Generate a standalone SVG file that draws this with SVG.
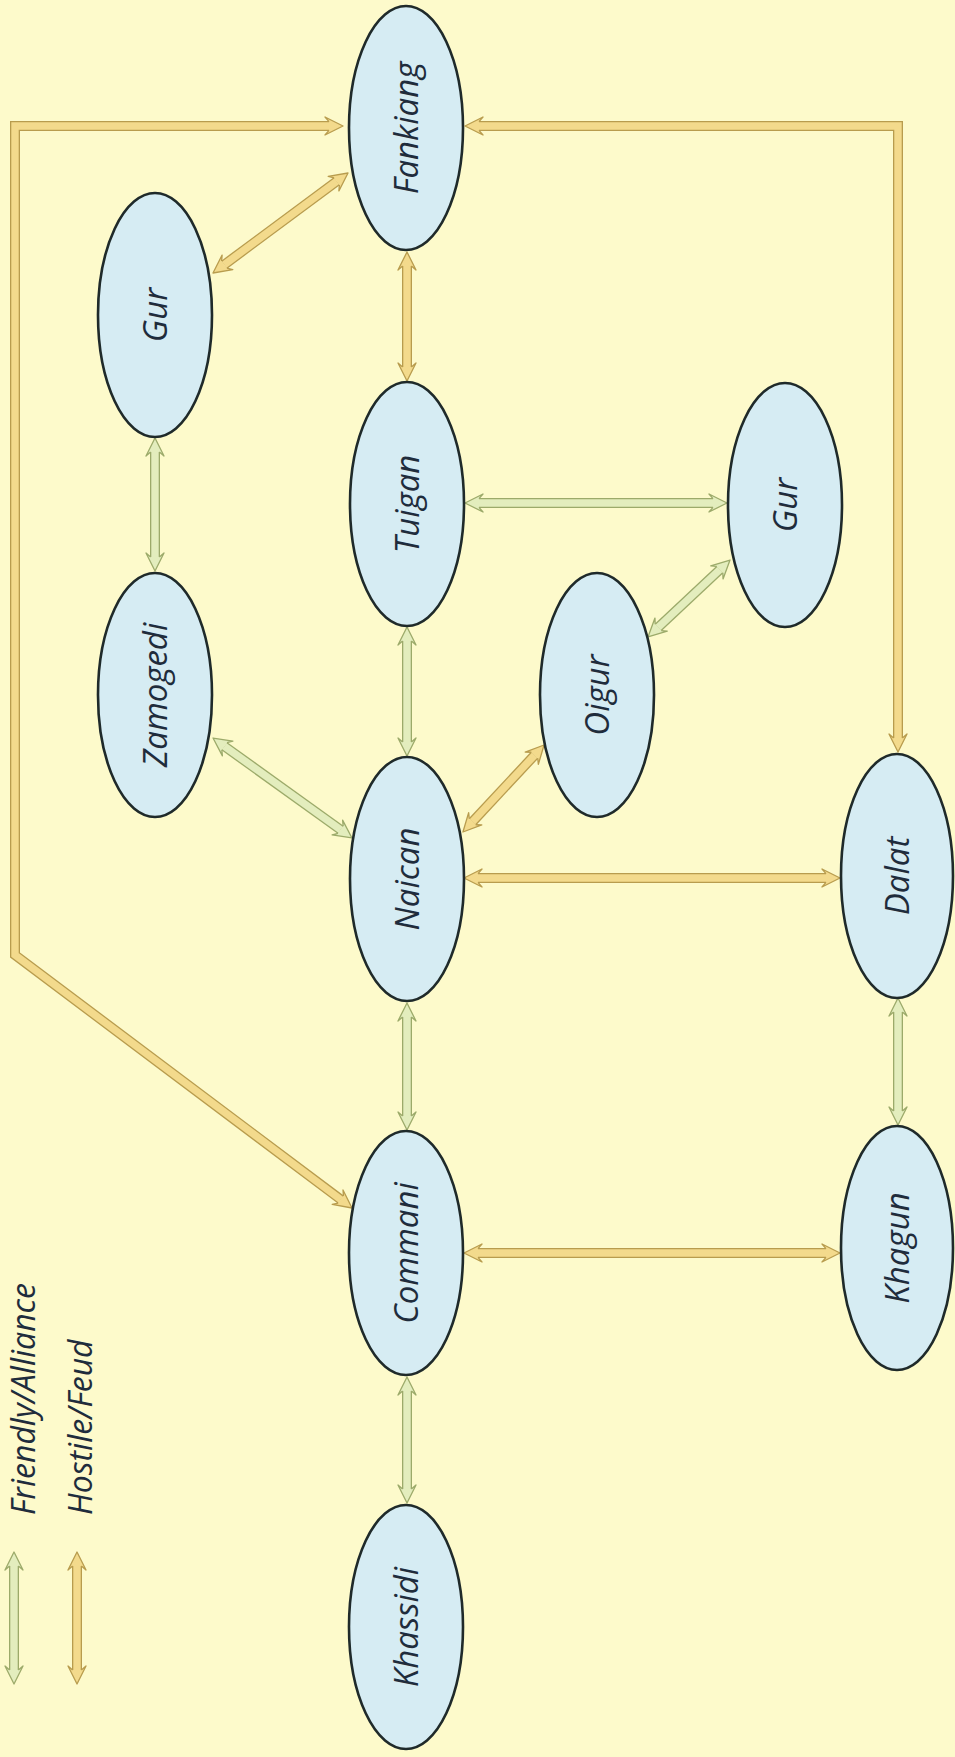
<svg xmlns="http://www.w3.org/2000/svg" width="955" height="1757" viewBox="0 0 955 1757">
<defs>
<style>
.node ellipse{fill:#d6ecf3;stroke:#1f2a2a;stroke-width:2.6}
.node text,.legend text{font-family:"Open Sans","DejaVu Sans",sans-serif;font-style:italic;font-weight:500;font-size:33px;fill:#1f2c3c}
.legend text{font-size:32px;font-weight:400}
.node text{text-anchor:middle}
.ho{fill:none;stroke:#b89c4e;stroke-width:10}
.hi{fill:none;stroke:#f3da8c;stroke-width:7.4;marker-start:url(#mh);marker-end:url(#mh)}
.fo{fill:none;stroke:#9caa6a;stroke-width:10}
.fi{fill:none;stroke:#e3edbd;stroke-width:7.4;marker-start:url(#mf);marker-end:url(#mf)}
</style>
<marker id="mh" viewBox="-6 -11 22 22" refX="0" refY="0" markerWidth="22" markerHeight="22" markerUnits="userSpaceOnUse" orient="auto-start-reverse" overflow="visible">
<path d="M0,-4.4 L-4,-9 L14,0 L-4,9 L0,4.4" fill="#f3da8c" stroke="#b89c4e" stroke-width="1.3" stroke-linejoin="round"/>
</marker>
<marker id="mf" viewBox="-6 -11 22 22" refX="0" refY="0" markerWidth="22" markerHeight="22" markerUnits="userSpaceOnUse" orient="auto-start-reverse" overflow="visible">
<path d="M0,-4.4 L-4,-9 L14,0 L-4,9 L0,4.4" fill="#e3edbd" stroke="#9caa6a" stroke-width="1.3" stroke-linejoin="round"/>
</marker>
</defs>
<rect width="955" height="1757" fill="#fdfacb"/>
<g id="connectors">
<g id="h-fankiang-gur"><path class="ho" d="M224.25,264.67 L336.75,181.33"/><path class="hi" d="M224.25,264.67 L336.75,181.33"/></g>
<g id="h-fankiang-tuigan"><path class="ho" d="M407,266 L407,367"/><path class="hi" d="M407,266 L407,367"/></g>
<g id="h-fankiang-commani"><path class="ho" d="M329,126 L15,126 L15,955 L340.8,1199.6"/><path class="hi" d="M329,126 L15,126 L15,955 L340.8,1199.6"/></g>
<g id="h-fankiang-dalat"><path class="ho" d="M479,126 L898,126 L898,738"/><path class="hi" d="M479,126 L898,126 L898,738"/></g>
<g id="h-naican-oigur"><path class="ho" d="M472.5,821.75 L534.5,755.25"/><path class="hi" d="M472.5,821.75 L534.5,755.25"/></g>
<g id="h-naican-dalat"><path class="ho" d="M478,878 L826,878"/><path class="hi" d="M478,878 L826,878"/></g>
<g id="h-commani-khagun"><path class="ho" d="M478,1253 L826,1253"/><path class="hi" d="M478,1253 L826,1253"/></g>
<g id="f-gur-zamogedi"><path class="fo" d="M155,452 L155,557"/><path class="fi" d="M155,452 L155,557"/></g>
<g id="f-tuigan-gur"><path class="fo" d="M479,503 L713,503"/><path class="fi" d="M479,503 L713,503"/></g>
<g id="f-tuigan-naican"><path class="fo" d="M407,641 L407,742"/><path class="fi" d="M407,641 L407,742"/></g>
<g id="f-zamogedi-naican"><path class="fo" d="M224.4,746.2 L340.6,829.8"/><path class="fi" d="M224.4,746.2 L340.6,829.8"/></g>
<g id="f-gur-oigur"><path class="fo" d="M719.8,569.6 L658.2,627.4"/><path class="fi" d="M719.8,569.6 L658.2,627.4"/></g>
<g id="f-naican-commani"><path class="fo" d="M407,1017 L407,1116"/><path class="fi" d="M407,1017 L407,1116"/></g>
<g id="f-dalat-khagun"><path class="fo" d="M898,1012 L898,1111"/><path class="fi" d="M898,1012 L898,1111"/></g>
<g id="f-commani-khassidi"><path class="fo" d="M407,1391 L407,1489"/><path class="fi" d="M407,1391 L407,1489"/></g>
</g>
<g id="legend" class="legend">
<path class="fo" d="M14,1566 L14,1670"/><path class="fi" d="M14,1566 L14,1670"/>
<path class="ho" d="M77,1566 L77,1670"/><path class="hi" d="M77,1566 L77,1670"/>
<text transform="translate(35,1515) rotate(-90)">Friendly/Alliance</text>
<text transform="translate(92,1515) rotate(-90)">Hostile/Feud</text>
</g>
<g id="fankiang" class="node"><ellipse cx="406" cy="128" rx="57" ry="122"/><text transform="translate(406,128) rotate(-90)" y="12">Fankiang</text></g>
<g id="gur1" class="node"><ellipse cx="155" cy="315" rx="57" ry="122"/><text transform="translate(155,315) rotate(-90)" y="12">Gur</text></g>
<g id="tuigan" class="node"><ellipse cx="407" cy="504" rx="57" ry="122"/><text transform="translate(407,504) rotate(-90)" y="12">Tuigan</text></g>
<g id="gur2" class="node"><ellipse cx="785" cy="505" rx="57" ry="122"/><text transform="translate(785,505) rotate(-90)" y="12">Gur</text></g>
<g id="zamogedi" class="node"><ellipse cx="155" cy="695" rx="57" ry="122"/><text transform="translate(155,695) rotate(-90)" y="12">Zamogedi</text></g>
<g id="oigur" class="node"><ellipse cx="597" cy="695" rx="57" ry="122"/><text transform="translate(597,695) rotate(-90)" y="12">Oigur</text></g>
<g id="naican" class="node"><ellipse cx="407" cy="879" rx="57" ry="122"/><text transform="translate(407,879) rotate(-90)" y="12">Naican</text></g>
<g id="dalat" class="node"><ellipse cx="897" cy="876" rx="56" ry="122"/><text transform="translate(897,876) rotate(-90)" y="12">Dalat</text></g>
<g id="commani" class="node"><ellipse cx="406" cy="1253" rx="57" ry="122"/><text transform="translate(406,1253) rotate(-90)" y="12">Commani</text></g>
<g id="khagun" class="node"><ellipse cx="897" cy="1248" rx="56" ry="122"/><text transform="translate(897,1248) rotate(-90)" y="12">Khagun</text></g>
<g id="khassidi" class="node"><ellipse cx="406" cy="1627" rx="57" ry="122"/><text transform="translate(406,1627) rotate(-90)" y="12">Khassidi</text></g>
</svg>
